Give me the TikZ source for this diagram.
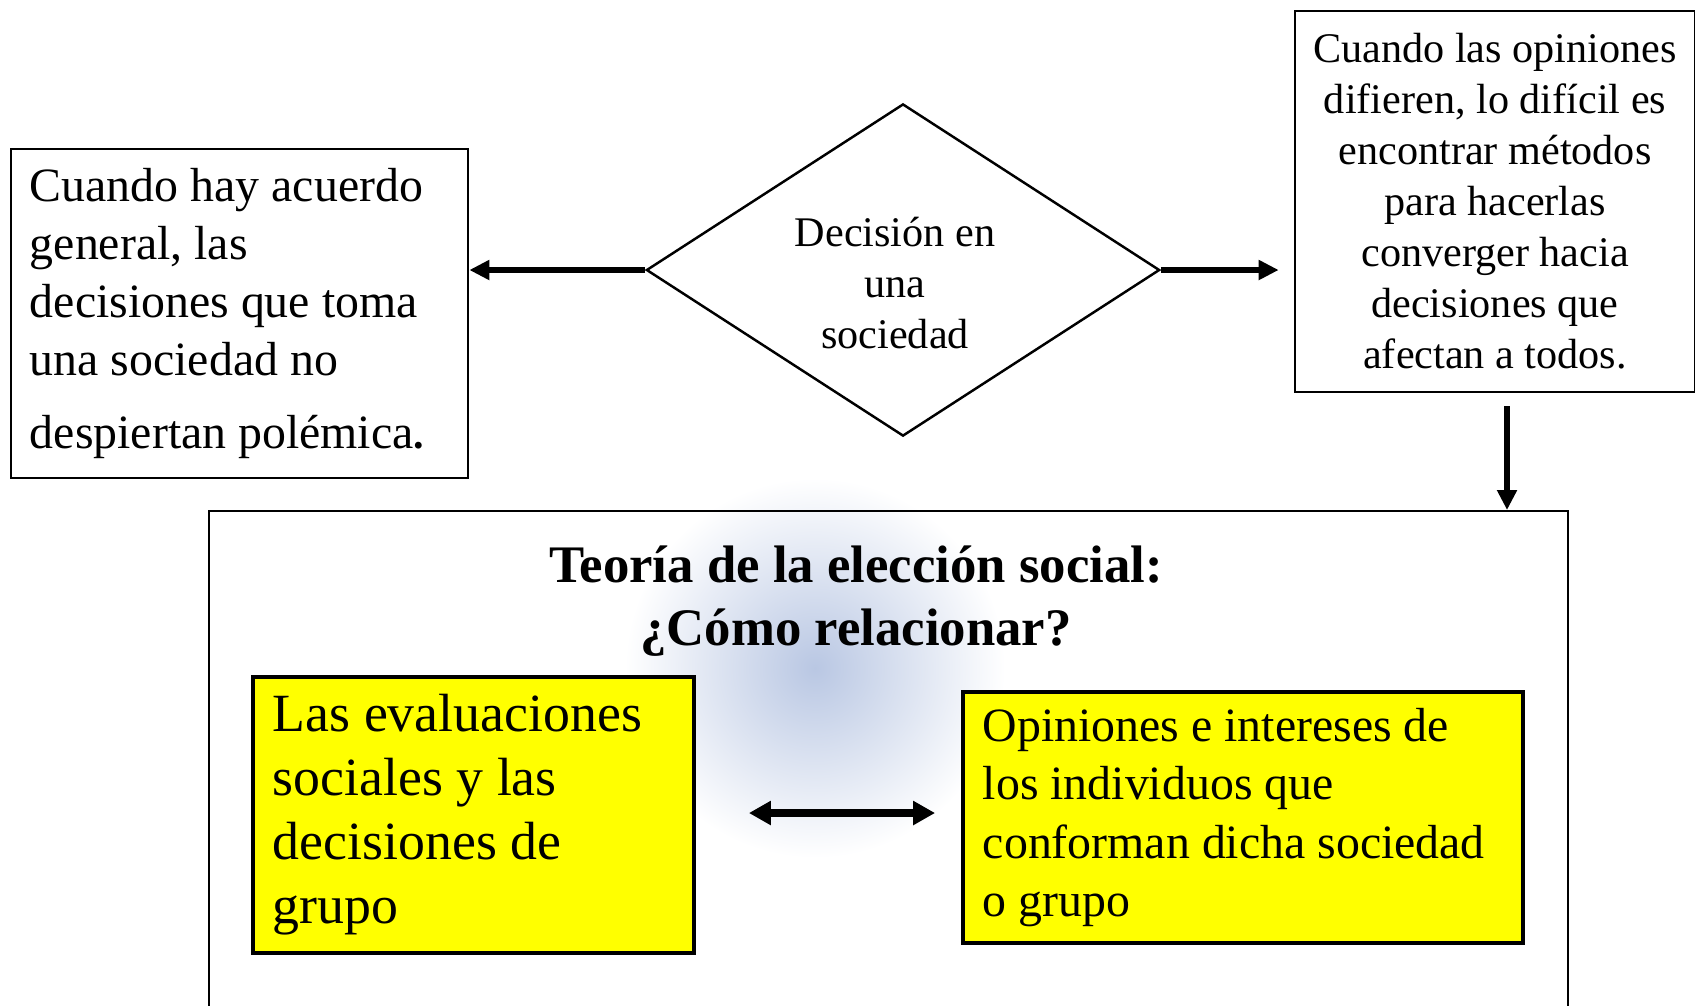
\documentclass[tikz,border=0pt]{standalone}
\usepackage{fontspec}
\setmainfont{Liberation Serif}
\usetikzlibrary{shapes.geometric,arrows.meta,positioning}
\definecolor{amarillo}{RGB}{255,255,0}
\definecolor{globo}{RGB}{80,115,185}

\begin{document}
\begin{tikzpicture}[x=0.01cm, y=-0.01cm, every node/.style={font=\fontsize{12}{14.5}\selectfont},
		flecha/.style={-{Triangle[length=2mm,width=1.9mm]}, line width=1.7pt},
		caja/.style={draw, line width=0.7pt},
		amarilla/.style={draw, fill=amarillo, line width=1pt, align=flush left}]
			\path[use as bounding box, fill=white] (0,0) rectangle (1695,1005);
			\shade[inner color=globo!40!white, outer color=white] (815,668) circle (1.9cm);
			
			\node[caja, diamond, inner sep=0pt, minimum width=5.13cm, minimum height=3.32cm] (decision) at (903,270) {};
			\node[align=center] (dectxt) at (895,283) {Decisión en\\ una\\ sociedad};
			\node[caja, fill=white, minimum width=4.57cm, minimum height=3.29cm, text width=4.19cm, align=flush left, font=\fontsize{13.6}{16.5}\selectfont] (acuerdo) at (239.5,313.5) {Cuando hay acuerdo\\ general, las\\ decisiones que toma\\ una sociedad no\\[4.3pt] despiertan polémica{\bfseries\large .}};
			\node[caja, fill=white, minimum width=4.0cm, minimum height=3.81cm, align=center] (opiniones) at (1495,201.5) {Cuando las opiniones\\ difieren, lo difícil es\\ encontrar métodos\\ para hacerlas\\ converger hacia\\ decisiones que\\ afectan a todos.};
			
			\node[caja, anchor=north west, minimum width=13.58cm, minimum height=5.4cm] (teoria) at (208,510) {};
			\node[align=center, font=\bfseries\fontsize{15}{17.9}\selectfont] (titulo) at (856,601) {Teoría de la elección social:\\ ¿Cómo relacionar?};
			\node[amarilla, minimum width=4.41cm, minimum height=2.76cm, text width=4.01cm, font=\fontsize{15.3}{18.2}\selectfont] (evaluaciones) at (473.5,815) {Las evaluaciones\\ sociales y las\\ decisiones de\\ grupo};
			\node[amarilla, minimum width=5.6cm, minimum height=2.51cm, text width=5.2cm, font=\fontsize{13.6}{16.6}\selectfont] (individuos) at (1243,817.5) {Opiniones e intereses de\\ los individuos que\\ conforman dicha sociedad\\ o grupo};
			
			\draw[flecha] (decision.west) -- (decision.west -| acuerdo.east);
			\draw[flecha, shorten >=1.5mm] (decision.east) -- (decision.east -| opiniones.west);
			\draw[flecha, shorten <=1.3mm] ([xshift=0.12cm]opiniones.south) -- ([xshift=0.12cm]opiniones.south |- teoria.north);
			\draw[{Triangle[length=2.2mm,width=2.3mm]}-{Triangle[length=2.2mm,width=2.3mm]}, line width=2.2pt, shorten <=5.3mm, shorten >=2.6mm] ([yshift=0.02cm]evaluaciones.east) -- ([yshift=0.02cm]evaluaciones.east -| individuos.west);
		\end{tikzpicture}
\end{document}
